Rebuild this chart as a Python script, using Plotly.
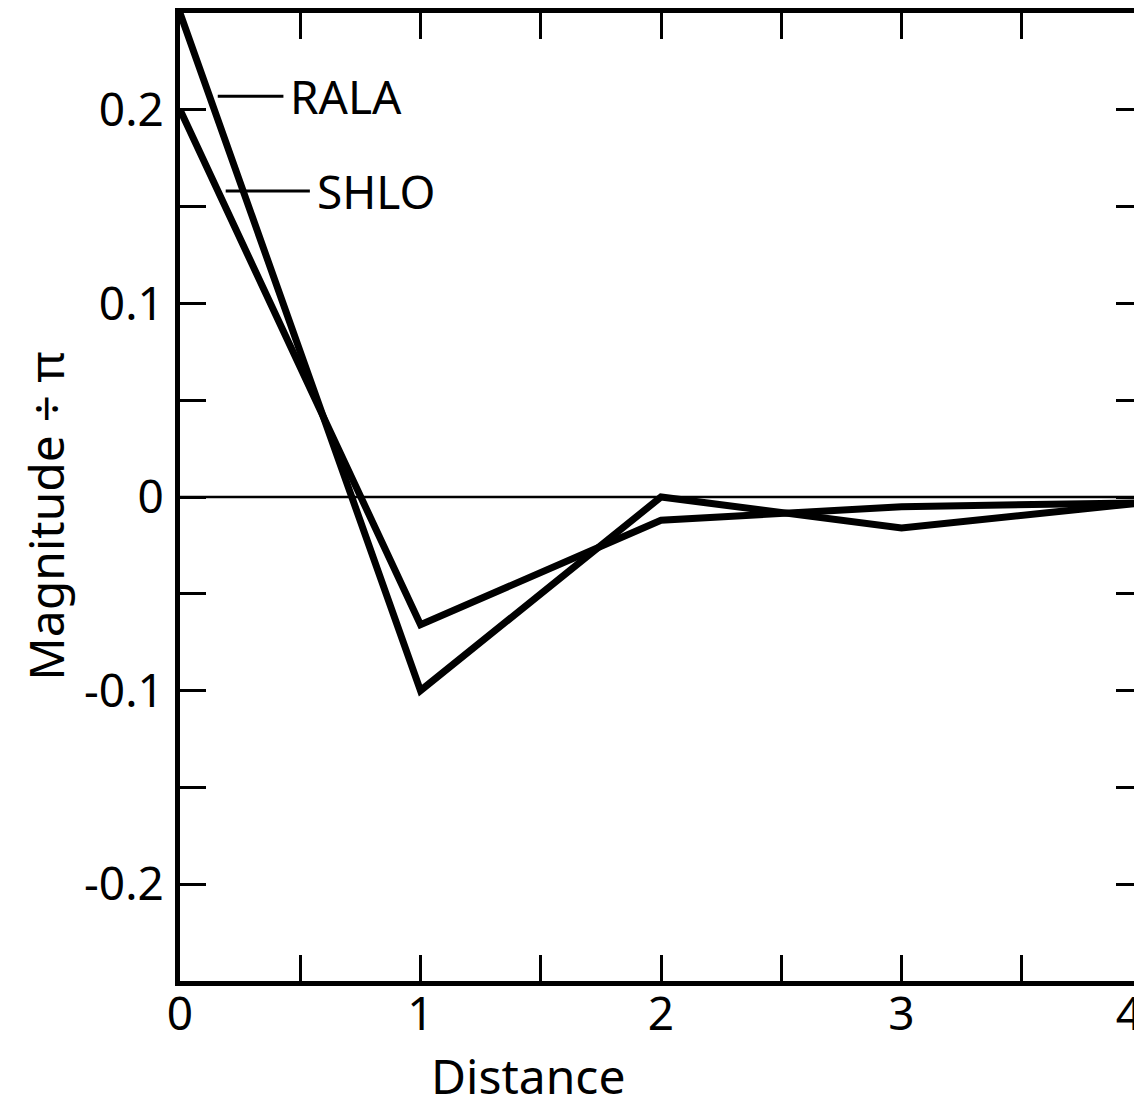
import plotly.graph_objects as go

# values
distance = [0, 1, 2, 3, 4]
rala = [0.250, -0.100, 0.000, -0.016, -0.003]
shlo = [0.200, -0.066, -0.012, -0.005, -0.003]

y_ticks = [-0.25, -0.2, -0.15, -0.1, -0.05, 0, 0.05, 0.1, 0.15, 0.2, 0.25]
y_labels = ["", "-0.2", "", "-0.1", "", "0", "", "0.1", "", "0.2", ""]
x_ticks = [0, 0.5, 1, 1.5, 2, 2.5, 3, 3.5, 4]
# figure space after the 4 keeps it inside the cropped right edge
x_labels = ["0", "", "1", "", "2", "", "3", "", "4\u2007"]

# series labels with leader lines: (name, line x0, line x1, y)
labels = [("RALA", 0.157, 0.43, 0.207),
          ("SHLO", 0.19, 0.54, 0.158)]

FONT = "Noto Sans"

fig = go.Figure()
fig.add_trace(go.Scatter(x=distance, y=rala, mode="lines", name="RALA",
                         line=dict(color="black", width=7)))
fig.add_trace(go.Scatter(x=distance, y=shlo, mode="lines", name="SHLO",
                         line=dict(color="black", width=7)))

for name, x0, x1, y in labels:
    fig.add_shape(type="line", x0=x0, x1=x1, y0=y, y1=y, xref="x", yref="y",
                  line=dict(color="black", width=3))
    fig.add_annotation(x=x1, y=y, text=name, showarrow=False, xanchor="left",
                       yanchor="middle", xshift=5,
                       font=dict(family=FONT, size=46, color="black"))

# zero line
fig.add_hline(y=0, line=dict(color="black", width=2.5))

# axis titles (x title sits left of centre in the original)
fig.add_annotation(x=0.362, y=-0.098, xref="paper", yref="paper",
                   text="Distance", showarrow=False, xanchor="center",
                   yanchor="middle", font=dict(family=FONT, size=48, color="black"))
fig.add_annotation(x=-0.14, y=0.48, xref="paper", yref="paper",
                   text="Magnitude ÷ π", showarrow=False, textangle=-90,
                   xanchor="center", yanchor="middle",
                   font=dict(family=FONT, size=48, color="black"))

# page body has an 8px margin, so the figure is sized to fit the window
fig.update_layout(
    width=1134, height=1094,
    margin=dict(l=172, r=0, t=5, b=121),
    paper_bgcolor="white", plot_bgcolor="white",
    showlegend=False,
    font=dict(family=FONT, color="black"),
)
fig.update_xaxes(
    range=[0, 4], tickvals=x_ticks, ticktext=x_labels,
    ticks="inside", ticklen=26, tickwidth=3, tickcolor="black",
    showline=True, linewidth=5, linecolor="black", mirror="allticks",
    showgrid=False, zeroline=False, automargin=False,
    ticklabeloverflow="allow",
    tickfont=dict(size=46), ticklabelstandoff=-11,
)
fig.update_yaxes(
    range=[-0.25, 0.25], tickvals=y_ticks, ticktext=y_labels,
    ticks="inside", ticklen=26, tickwidth=3, tickcolor="black",
    showline=True, linewidth=5, linecolor="black", mirror="ticks",
    showgrid=False, zeroline=False, automargin=False,
    tickfont=dict(size=46), ticklabelstandoff=2,
)

fig.write_html("out.html")
